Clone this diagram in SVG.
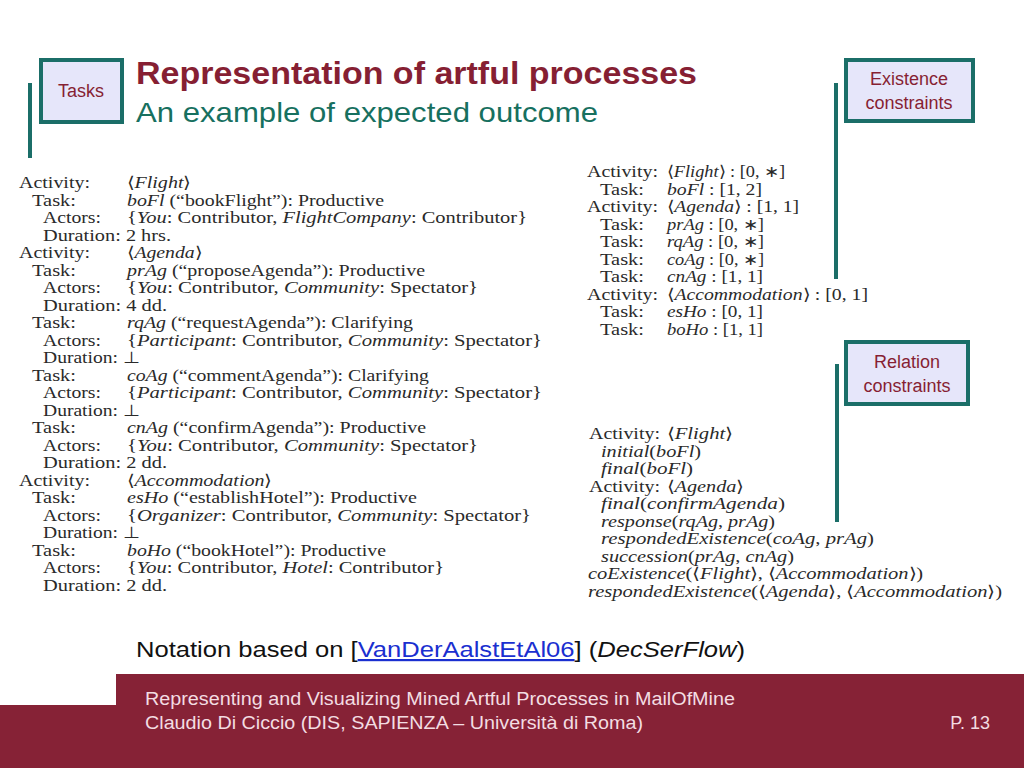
<svg xmlns="http://www.w3.org/2000/svg" width="1024" height="768" viewBox="0 0 1024 768">
<style>
.bar{stroke:#1b6e68;stroke-width:4;fill:none}
.box{fill:#e6e6fa;stroke:#1b6e68;stroke-width:4}
.lbl{font-family:"Liberation Sans",Arial,sans-serif;font-size:18px;fill:#861f33;text-anchor:middle}
.tex{font-family:"Liberation Serif","Times New Roman",serif;font-size:16px;fill:#2a2a2a}
.i{font-style:italic}
.foot{font-family:"Liberation Sans",Arial,sans-serif;font-size:18px;fill:#f3dde2}
</style>
<rect width="1024" height="768" fill="#fff"/>
<!-- footer band -->
<path d="M116 674H1024V768H0V705H116Z" fill="#862236"/>
<text class="foot" x="145" y="705" textLength="590" lengthAdjust="spacingAndGlyphs">Representing and Visualizing Mined Artful Processes in MailOfMine</text>
<text class="foot" x="145" y="729" textLength="498" lengthAdjust="spacingAndGlyphs">Claudio Di Ciccio (DIS, SAPIENZA – Università di Roma)</text>
<text class="foot" x="990" y="729" text-anchor="end">P. 13</text>
<!-- title -->
<text x="136" y="84" font-family="Liberation Sans,Arial,sans-serif" font-weight="bold" font-size="32" fill="#861f33" textLength="561" lengthAdjust="spacingAndGlyphs">Representation of artful processes</text>
<text x="136" y="122" font-family="Liberation Sans,Arial,sans-serif" font-size="28" fill="#17705f" textLength="462" lengthAdjust="spacingAndGlyphs">An example of expected outcome</text>
<text x="136" y="657" font-family="Liberation Sans,Arial,sans-serif" font-size="22" fill="#111" textLength="609" lengthAdjust="spacingAndGlyphs">Notation based on [<tspan fill="#1a2fd0" text-decoration="underline">VanDerAalstEtAl06</tspan>] (<tspan font-style="italic">DecSerFlow</tspan>)</text>
<!-- callout nodes -->
<g id="tasks">
<line class="bar" x1="30" y1="83" x2="30" y2="158"/>
<rect class="box" x="41" y="60" width="81" height="62"/>
<text class="lbl" x="81" y="97">Tasks</text>
</g>
<g id="existence">
<line class="bar" x1="836" y1="83" x2="836" y2="279"/>
<rect class="box" x="846" y="60" width="127" height="61"/>
<text class="lbl" x="909" y="85">Existence</text>
<text class="lbl" x="909" y="109">constraints</text>
</g>
<g id="relation">
<line class="bar" x1="837" y1="364" x2="837" y2="522"/>
<rect class="box" x="846" y="342" width="122" height="62"/>
<text class="lbl" x="907" y="368">Relation</text>
<text class="lbl" x="907" y="392">constraints</text>
</g>
<g id="connectors"></g>
<!-- left block -->
<g id="tasks-block" class="tex">
<text x="19" y="188" textLength="71" lengthAdjust="spacingAndGlyphs">Activity:</text><text x="127" y="188" textLength="64" lengthAdjust="spacingAndGlyphs">⟨<tspan class="i">Flight</tspan>⟩</text>
<text x="32" y="205.5" textLength="44" lengthAdjust="spacingAndGlyphs">Task:</text><text x="127" y="205.5" textLength="257" lengthAdjust="spacingAndGlyphs"><tspan class="i">boFl</tspan> (“bookFlight”): Productive</text>
<text x="43" y="223" textLength="58" lengthAdjust="spacingAndGlyphs">Actors:</text><text x="127" y="223" textLength="400" lengthAdjust="spacingAndGlyphs">{<tspan class="i">You</tspan>: Contributor, <tspan class="i">FlightCompany</tspan>: Contributor}</text>
<text x="43" y="240.5" textLength="128" lengthAdjust="spacingAndGlyphs">Duration: 2 hrs.</text>
<text x="19" y="258" textLength="71" lengthAdjust="spacingAndGlyphs">Activity:</text><text x="127" y="258" textLength="75" lengthAdjust="spacingAndGlyphs">⟨<tspan class="i">Agenda</tspan>⟩</text>
<text x="32" y="275.5" textLength="44" lengthAdjust="spacingAndGlyphs">Task:</text><text x="127" y="275.5" textLength="298" lengthAdjust="spacingAndGlyphs"><tspan class="i">prAg</tspan> (“proposeAgenda”): Productive</text>
<text x="43" y="293" textLength="58" lengthAdjust="spacingAndGlyphs">Actors:</text><text x="127" y="293" textLength="351" lengthAdjust="spacingAndGlyphs">{<tspan class="i">You</tspan>: Contributor, <tspan class="i">Community</tspan>: Spectator}</text>
<text x="43" y="310.5" textLength="124" lengthAdjust="spacingAndGlyphs">Duration: 4 dd.</text>
<text x="32" y="328" textLength="44" lengthAdjust="spacingAndGlyphs">Task:</text><text x="127" y="328" textLength="286" lengthAdjust="spacingAndGlyphs"><tspan class="i">rqAg</tspan> (“requestAgenda”): Clarifying</text>
<text x="43" y="345.5" textLength="58" lengthAdjust="spacingAndGlyphs">Actors:</text><text x="127" y="345.5" textLength="415" lengthAdjust="spacingAndGlyphs">{<tspan class="i">Participant</tspan>: Contributor, <tspan class="i">Community</tspan>: Spectator}</text>
<text x="43" y="363" textLength="97" lengthAdjust="spacingAndGlyphs">Duration: ⊥</text>
<text x="32" y="380.5" textLength="44" lengthAdjust="spacingAndGlyphs">Task:</text><text x="127" y="380.5" textLength="302" lengthAdjust="spacingAndGlyphs"><tspan class="i">coAg</tspan> (“commentAgenda”): Clarifying</text>
<text x="43" y="398" textLength="58" lengthAdjust="spacingAndGlyphs">Actors:</text><text x="127" y="398" textLength="415" lengthAdjust="spacingAndGlyphs">{<tspan class="i">Participant</tspan>: Contributor, <tspan class="i">Community</tspan>: Spectator}</text>
<text x="43" y="415.5" textLength="97" lengthAdjust="spacingAndGlyphs">Duration: ⊥</text>
<text x="32" y="433" textLength="44" lengthAdjust="spacingAndGlyphs">Task:</text><text x="127" y="433" textLength="299" lengthAdjust="spacingAndGlyphs"><tspan class="i">cnAg</tspan> (“confirmAgenda”): Productive</text>
<text x="43" y="450.5" textLength="58" lengthAdjust="spacingAndGlyphs">Actors:</text><text x="127" y="450.5" textLength="351" lengthAdjust="spacingAndGlyphs">{<tspan class="i">You</tspan>: Contributor, <tspan class="i">Community</tspan>: Spectator}</text>
<text x="43" y="468" textLength="124" lengthAdjust="spacingAndGlyphs">Duration: 2 dd.</text>
<text x="19" y="485.5" textLength="71" lengthAdjust="spacingAndGlyphs">Activity:</text><text x="127" y="485.5" textLength="145" lengthAdjust="spacingAndGlyphs">⟨<tspan class="i">Accommodation</tspan>⟩</text>
<text x="32" y="503" textLength="44" lengthAdjust="spacingAndGlyphs">Task:</text><text x="127" y="503" textLength="290" lengthAdjust="spacingAndGlyphs"><tspan class="i">esHo</tspan> (“establishHotel”): Productive</text>
<text x="43" y="520.5" textLength="58" lengthAdjust="spacingAndGlyphs">Actors:</text><text x="127" y="520.5" textLength="404" lengthAdjust="spacingAndGlyphs">{<tspan class="i">Organizer</tspan>: Contributor, <tspan class="i">Community</tspan>: Spectator}</text>
<text x="43" y="538" textLength="97" lengthAdjust="spacingAndGlyphs">Duration: ⊥</text>
<text x="32" y="555.5" textLength="44" lengthAdjust="spacingAndGlyphs">Task:</text><text x="127" y="555.5" textLength="259" lengthAdjust="spacingAndGlyphs"><tspan class="i">boHo</tspan> (“bookHotel”): Productive</text>
<text x="43" y="573" textLength="58" lengthAdjust="spacingAndGlyphs">Actors:</text><text x="127" y="573" textLength="317" lengthAdjust="spacingAndGlyphs">{<tspan class="i">You</tspan>: Contributor, <tspan class="i">Hotel</tspan>: Contributor}</text>
<text x="43" y="590.5" textLength="124" lengthAdjust="spacingAndGlyphs">Duration: 2 dd.</text>
</g>
<!-- existence block -->
<g id="existence-block" class="tex">
<text x="587" y="177" textLength="71" lengthAdjust="spacingAndGlyphs">Activity:</text><text x="667" y="177" textLength="118" lengthAdjust="spacingAndGlyphs">⟨<tspan class="i">Flight</tspan>⟩ : [0, ∗]</text>
<text x="600" y="194.5" textLength="44" lengthAdjust="spacingAndGlyphs">Task:</text><text x="667" y="194.5" textLength="95" lengthAdjust="spacingAndGlyphs"><tspan class="i">boFl</tspan> :  [1, 2]</text>
<text x="587" y="212" textLength="71" lengthAdjust="spacingAndGlyphs">Activity:</text><text x="667" y="212" textLength="132" lengthAdjust="spacingAndGlyphs">⟨<tspan class="i">Agenda</tspan>⟩ : [1, 1]</text>
<text x="600" y="229.5" textLength="44" lengthAdjust="spacingAndGlyphs">Task:</text><text x="667" y="229.5" textLength="97" lengthAdjust="spacingAndGlyphs"><tspan class="i">prAg</tspan> : [0, ∗]</text>
<text x="600" y="247" textLength="44" lengthAdjust="spacingAndGlyphs">Task:</text><text x="667" y="247" textLength="97" lengthAdjust="spacingAndGlyphs"><tspan class="i">rqAg</tspan> :  [0, ∗]</text>
<text x="600" y="264.5" textLength="44" lengthAdjust="spacingAndGlyphs">Task:</text><text x="667" y="264.5" textLength="97" lengthAdjust="spacingAndGlyphs"><tspan class="i">coAg</tspan> : [0, ∗]</text>
<text x="600" y="282" textLength="44" lengthAdjust="spacingAndGlyphs">Task:</text><text x="667" y="282" textLength="96" lengthAdjust="spacingAndGlyphs"><tspan class="i">cnAg</tspan> : [1, 1]</text>
<text x="587" y="299.5" textLength="71" lengthAdjust="spacingAndGlyphs">Activity:</text><text x="667" y="299.5" textLength="201" lengthAdjust="spacingAndGlyphs">⟨<tspan class="i">Accommodation</tspan>⟩ : [0, 1]</text>
<text x="600" y="317" textLength="44" lengthAdjust="spacingAndGlyphs">Task:</text><text x="667" y="317" textLength="96" lengthAdjust="spacingAndGlyphs"><tspan class="i">esHo</tspan> : [0, 1]</text>
<text x="600" y="334.5" textLength="44" lengthAdjust="spacingAndGlyphs">Task:</text><text x="667" y="334.5" textLength="96" lengthAdjust="spacingAndGlyphs"><tspan class="i">boHo</tspan> : [1, 1]</text>
</g>
<!-- relation block -->
<g id="relation-block" class="tex">
<text x="589" y="439" textLength="71" lengthAdjust="spacingAndGlyphs">Activity:</text><text x="667" y="439" textLength="66" lengthAdjust="spacingAndGlyphs">⟨<tspan class="i">Flight</tspan>⟩</text>
<text x="601" y="456.5" textLength="100" lengthAdjust="spacingAndGlyphs"><tspan class="i">initial</tspan>(<tspan class="i">boFl</tspan>)</text>
<text x="601" y="474" textLength="92" lengthAdjust="spacingAndGlyphs"><tspan class="i">final</tspan>(<tspan class="i">boFl</tspan>)</text>
<text x="589" y="491.5" textLength="71" lengthAdjust="spacingAndGlyphs">Activity:</text><text x="667" y="491.5" textLength="77" lengthAdjust="spacingAndGlyphs">⟨<tspan class="i">Agenda</tspan>⟩</text>
<text x="601" y="509" textLength="184" lengthAdjust="spacingAndGlyphs"><tspan class="i">final</tspan>(<tspan class="i">confirmAgenda</tspan>)</text>
<text x="601" y="526.5" textLength="174" lengthAdjust="spacingAndGlyphs"><tspan class="i">response</tspan>(<tspan class="i">rqAg</tspan>, <tspan class="i">prAg</tspan>)</text>
<text x="601" y="544" textLength="273" lengthAdjust="spacingAndGlyphs"><tspan class="i">respondedExistence</tspan>(<tspan class="i">coAg</tspan>, <tspan class="i">prAg</tspan>)</text>
<text x="601" y="561.5" textLength="193" lengthAdjust="spacingAndGlyphs"><tspan class="i">succession</tspan>(<tspan class="i">prAg</tspan>, <tspan class="i">cnAg</tspan>)</text>
<text x="588" y="579" textLength="335" lengthAdjust="spacingAndGlyphs"><tspan class="i">coExistence</tspan>(⟨<tspan class="i">Flight</tspan>⟩, ⟨<tspan class="i">Accommodation</tspan>⟩)</text>
<text x="588" y="596.5" textLength="414" lengthAdjust="spacingAndGlyphs"><tspan class="i">respondedExistence</tspan>(⟨<tspan class="i">Agenda</tspan>⟩, ⟨<tspan class="i">Accommodation</tspan>⟩)</text>
</g>
</svg>
